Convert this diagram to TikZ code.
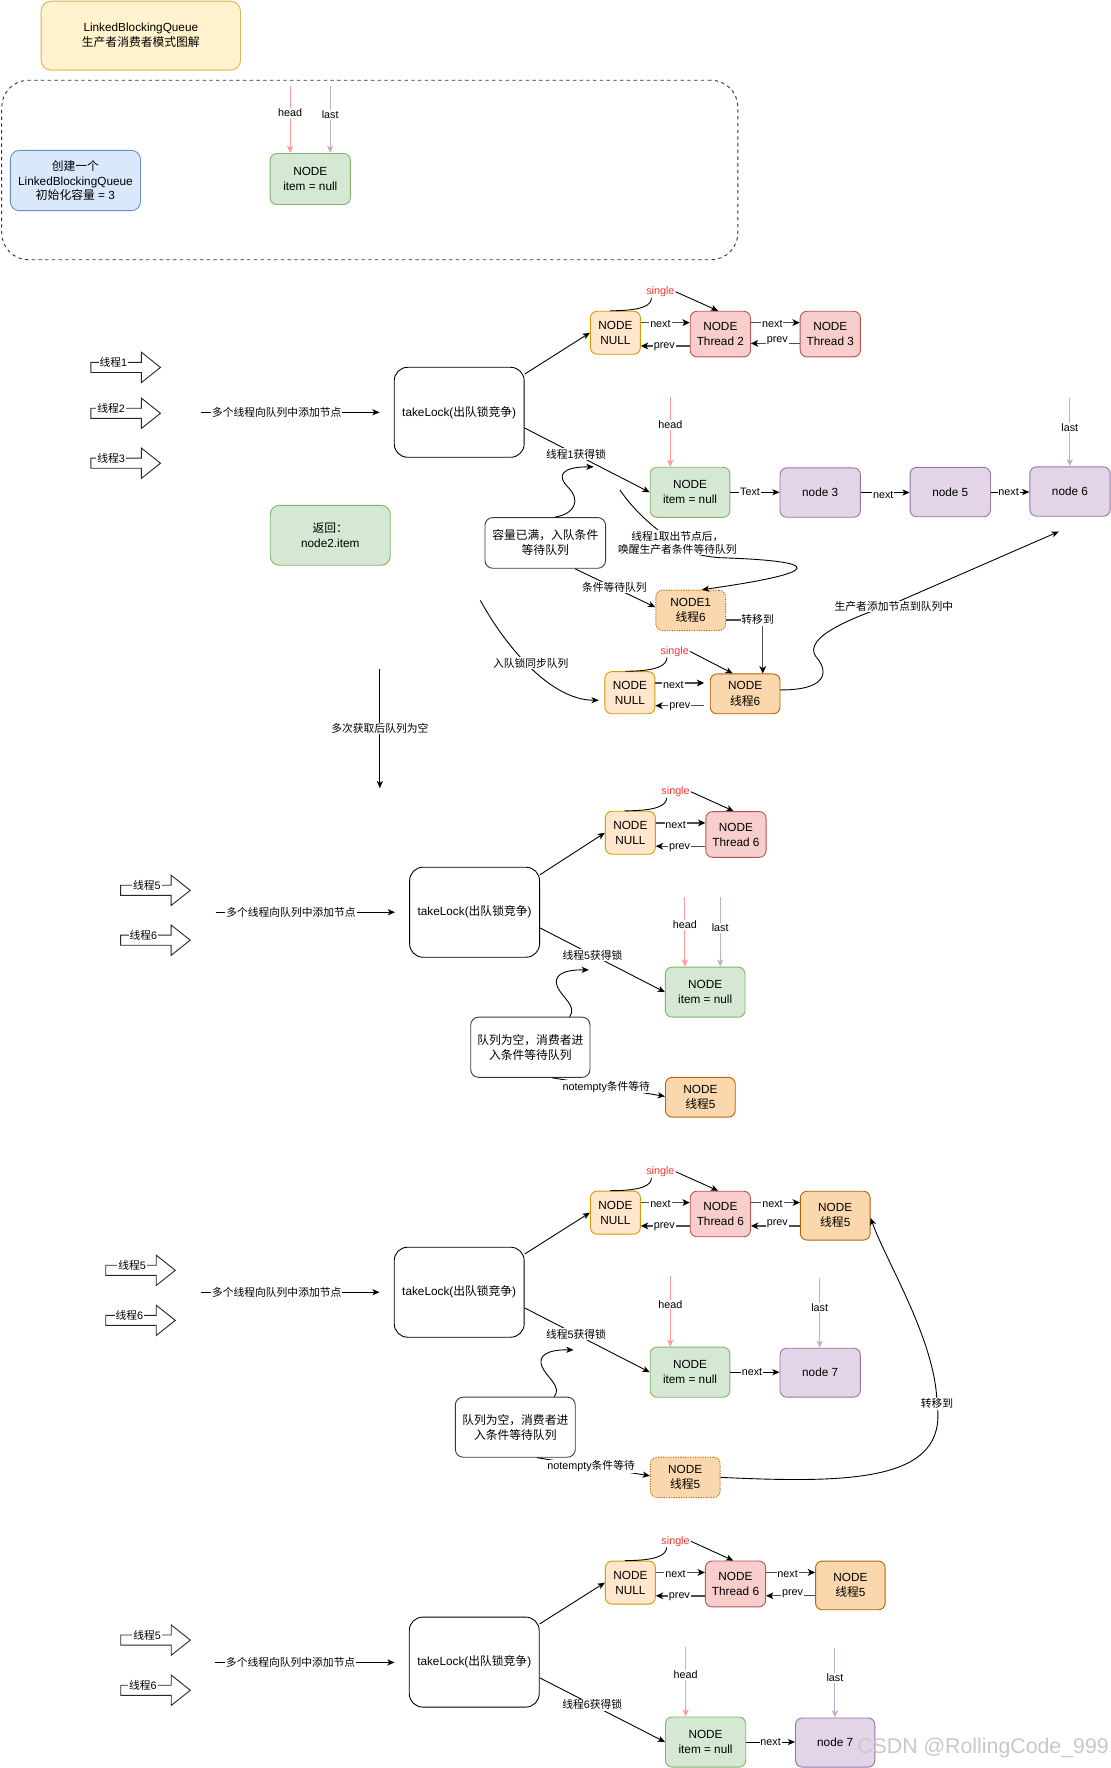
\documentclass[tikz,border=0pt]{standalone}
\usepackage{fontspec}
\setmainfont{Liberation Sans}
\newfontfamily\cjkfont{Noto Sans CJK SC}
\usetikzlibrary{arrows.meta}
\newcommand\zh[1]{{\cjkfont #1}}
\definecolor{nullfill}{HTML}{FFE6CC}\definecolor{nulldraw}{HTML}{D79B00}
\definecolor{redfill}{HTML}{F8CECC}\definecolor{reddraw}{HTML}{B85450}
\definecolor{grnfill}{HTML}{D5E8D4}\definecolor{grndraw}{HTML}{82B366}
\definecolor{purfill}{HTML}{E1D5E7}\definecolor{purdraw}{HTML}{9673A6}
\definecolor{orgfill}{HTML}{FAD7AC}\definecolor{orgdraw}{HTML}{B46504}
\definecolor{blufill}{HTML}{DAE8FC}\definecolor{bludraw}{HTML}{6C8EBF}
\definecolor{yelfill}{HTML}{FFF2CC}\definecolor{yeldraw}{HTML}{D6B656}
\definecolor{headcol}{HTML}{FF9999}
\definecolor{lastcol}{HTML}{C3ABD0}
\definecolor{sglcol}{HTML}{FF3333}
\definecolor{nxcol}{HTML}{4D4D4D}
\definecolor{msgdraw}{HTML}{36393D}
\definecolor{wmcol}{RGB}{200,200,200}
\newcommand\blockarr[5]{%
 \draw[blk] (#2,#3-4.5) -- (#2+45,#3-4.5) -- (#2+45,#3-13.5) -- (#2+62,#3) -- (#2+45,#3+13.5) -- (#2+45,#3+4.5) -- (#2,#3+4.5) -- cycle;
 \node[elbl] (#1) at (#4,#3-4.5) {#5};}
\tikzset{
 bxbase/.style={rounded corners=6pt, line width=0.8pt, align=center, inner sep=0pt, font=\fontsize{10.5}{13.4}\selectfont, anchor=center},
 nnull/.style={bxbase, fill=nullfill, draw=nulldraw, minimum width=44.6pt, minimum height=38.3pt},
 nred/.style={bxbase, fill=redfill, draw=reddraw, minimum width=53.7pt, minimum height=40.6pt},
 ngrn/.style={bxbase, fill=grnfill, draw=grndraw, minimum width=71pt, minimum height=44.6pt},
 npur/.style={bxbase, fill=purfill, draw=purdraw, minimum width=71.6pt, minimum height=44pt},
 norg/.style={bxbase, fill=orgfill, draw=orgdraw, minimum width=62.2pt, minimum height=35.5pt},
 ndot/.style={norg, dash pattern=on 1pt off 1.2pt, minimum height=36pt},
 ntake/.style={bxbase, draw=black, fill=white, rounded corners=12pt, minimum width=115.8pt, minimum height=80.2pt},
 nmsg/.style={bxbase, draw=msgdraw, fill=white, rounded corners=7pt},
 arr/.style={line width=0.8pt, -{Stealth[length=6.5pt,width=5.5pt,inset=1.8pt]}},
 pln/.style={line width=0.8pt},
 nxln/.style={line width=1.3pt, draw=nxcol, -{Stealth[length=6.5pt,width=6pt,inset=1.8pt,color=black]}},
 headln/.style={line width=0.8pt, draw=headcol, -{Stealth[length=6.5pt,width=5.5pt,inset=1.8pt]}},
 lastln/.style={line width=0.8pt, draw=lastcol, -{Stealth[length=6.5pt,width=5.5pt,inset=1.8pt]}},
 elbl/.style={fill=white, inner sep=0.8pt, align=center, text=black, font=\fontsize{9.6}{11.6}\selectfont},
 sglbl/.style={elbl, text=sglcol},
 blk/.style={draw=black!85, fill=white, line width=0.8pt, line join=miter},
}
\begin{document}
\begin{tikzpicture}[x=1pt,y=-1pt]
\useasboundingbox (0,0) rectangle (990,1575.5);
\fill[white] (0,0) rectangle (990,1575.5);
% ---------------- section 0
\node[bxbase, fill=yelfill, draw=yeldraw, rounded corners=9pt, minimum width=177.7pt, minimum height=61.5pt] (title) at (125.5,31.8) {LinkedBlockingQueue\\\zh{生产者消费者模式图解}};
\node[draw=black!80, line width=0.8pt, dash pattern=on 3pt off 3pt, rounded corners=24pt, minimum width=656pt, minimum height=160pt, inner sep=0pt] (frame0) at (329.5,151.5) {};
\node[bxbase, fill=blufill, draw=bludraw, rounded corners=8pt, minimum width=116pt, minimum height=53.7pt, font=\fontsize{10.5}{13}\selectfont] (create) at (67.2,160.9) {\zh{创建一个}\\LinkedBlockingQueue\\\zh{初始化容量} = 3};
\node[ngrn, minimum width=71.5pt, minimum height=45.5pt] (s0node) at (276.5,159.5) {NODE\\item = null};
\coordinate (s0h) at (258.5,77);
\coordinate (s0l) at (294.2,77);
\draw[headln] (s0h) -- (s0h |- s0node.north) node[elbl,pos=0.4] {head};
\draw[lastln] (s0l) -- (s0l |- s0node.north) node[elbl,pos=0.43] {last};
% ---------------- section 1
\blockarr{s1th1}{81}{327.4}{101}{\zh{线程}1}
\blockarr{s1th2}{81}{368.3}{99}{\zh{线程}2}
\blockarr{s1th3}{81}{412.8}{99}{\zh{线程}3}
\coordinate (s1a) at (178.8,367.4);
\coordinate (s1b) at (338.3,367.4);
\draw[arr] (s1a) -- (s1b) node[elbl,pos=0.425] {\zh{多个线程向队列中添加节点}};
\node[ntake] (s1take) at (409.2,367.4) {takeLock(\zh{出队锁竞争})};
\node[nnull] (s1null) at (548.4,296.5) {NODE\\NULL};
\node[nred] (s1t2) at (641.9,297.7) {NODE\\Thread 2};
\node[nred] (s1t3) at (739.9,297.7) {NODE\\Thread 3};
\node[ngrn] (s1green) at (614.9,438.7) {NODE\\item = null};
\node[npur] (s1n3) at (730.9,438.9) {node 3};
\node[npur] (s1n5) at (846.8,438.5) {node 5};
\node[npur] (s1n6) at (953.5,438) {node 6};
\draw[arr] ([yshift=34pt]s1take.east) -- (s1null.west);
\draw[arr] ([yshift=-14pt]s1take.east) -- (s1green.west) node[elbl,pos=0.41] {\zh{线程}1\zh{获得锁}};
\draw[nxln] ([yshift=9pt]s1null.east) -- ([yshift=9pt]s1null.east -| s1t2.west) node[elbl,pos=0.4,yshift=-1.5pt] {next};
\draw[nxln] ([yshift=-11.8pt]s1null.east -| s1t2.west) -- ([yshift=-11.8pt]s1null.east) node[elbl,pos=0.52,yshift=-1pt] {prev};
\draw[nxln] ([yshift=10.2pt]s1t2.east) -- ([yshift=10.2pt]s1t2.east -| s1t3.west) node[elbl,pos=0.44,yshift=-1pt] {next};
\draw[nxln] ([yshift=-8.3pt]s1t2.east -| s1t3.west) -- ([yshift=-8.3pt]s1t2.east) node[elbl,pos=0.46,yshift=2pt] {prev};
\node[sglbl] (s1sg) at (588.5,260) {single};
\draw[pln] ([xshift=-5pt]s1null.north) .. controls +(28,0) and +(0,7) .. ([xshift=-8pt]s1sg.south);
\draw[arr] (s1sg.east) -- ([xshift=-2pt]s1t2.north);
\draw[arr] (s1green.east) -- (s1green.east -| s1n3.west) node[elbl,pos=0.4] {Text};
\draw[arr] (s1n3.east) -- (s1n3.east -| s1n5.west) node[elbl,pos=0.46,yshift=-2pt] {next};
\draw[arr] (s1n5.east) -- (s1n5.east -| s1n6.west) node[elbl,pos=0.46] {next};
\coordinate (s1h) at (597.3,353.4);
\coordinate (s1l) at (953.3,354.8);
\draw[headln] (s1h) -- (s1h |- s1green.north) node[elbl,pos=0.4] {head};
\draw[lastln] (s1l) -- (s1l |- s1n6.north) node[elbl,pos=0.43] {last};
\node[nmsg, minimum width=107.5pt, minimum height=45.2pt] (s1full) at (485.9,483.8) {\zh{容量已满，入队条件}\\\zh{等待队列}};
\coordinate (s1c1) at (529,416);
\draw[arr] ([xshift=8.6pt]s1full.north) .. controls (512,458) and (518,446) .. (506,434) .. controls (496,424) and (500,416) .. (s1c1);
\node[ndot] (s1node1) at (615.5,543.9) {NODE1\\\zh{线程}6};
\coordinate (s1w0) at (552.4,436.6);
\draw[arr] (s1w0) .. controls (565,455) and (580,468) .. (600,483) .. controls (615,494) and (628,496) .. (642,497) .. controls (735,500) and (735,510) .. ([xshift=10pt]s1node1.north);
\node[elbl] (s1wake) at (603.6,483.4) {\zh{线程}1\zh{取出节点后，}\\\zh{唤醒生产者条件等待队列}};
\draw[arr] ([xshift=26.4pt]s1full.south) -- ([yshift=2.8pt]s1node1.west) node[elbl,pos=0.49] {\zh{条件等待队列}};
\node[norg] (s1w6) at (664,618.3) {NODE\\\zh{线程}6};
\node[nnull, minimum height=37.5pt] (s1null2) at (561.3,617.3) {NODE\\NULL};
\draw[nxln] ([yshift=-8.5pt]s1node1.east) -| ([xshift=15.7pt]s1w6.north) node[elbl,pos=0.43] {\zh{转移到}};
\draw[nxln] ([yshift=8.7pt]s1null2.east) -- ([xshift=-5pt,yshift=8.7pt]s1null2.east -| s1w6.west) node[elbl,pos=0.37,yshift=-1.5pt] {next};
\draw[nxln] ([xshift=-5pt,yshift=-11.5pt]s1null2.east -| s1w6.west) -- ([yshift=-11.5pt]s1null2.east) node[elbl,pos=0.5,yshift=-1pt] {prev};
\node[sglbl] (s1sg2) at (601.3,580.5) {single};
\draw[pln] ([xshift=-4pt]s1null2.north) .. controls +(28,0) and +(0,7) .. ([xshift=-7pt]s1sg2.south);
\draw[arr] (s1sg2.east) -- ([xshift=-11pt]s1w6.north);
\coordinate (s1q0) at (428,535);
\draw[arr] (s1q0) .. controls (450,575) and (490,624) .. ([xshift=-5pt,yshift=-6.7pt]s1null2.west);
\node[elbl] (s1qlbl) at (473,591) {\zh{入队锁同步队列}};
\coordinate (s1p1) at (943.5,473.7);
\draw[arr] ([yshift=3.5pt]s1w6.east) .. controls (735,615) and (740,600) .. (727,585) .. controls (715,568) and (760,550) .. (796,538) -- (s1p1);
\node[elbl] (s1plbl) at (796.6,540.5) {\zh{生产者添加节点到队列中}};
\node[ngrn, rounded corners=8pt, minimum width=106.9pt, minimum height=53.4pt] (s1ret) at (294.3,477) {\zh{返回：}\\node2.item};
\coordinate (v0) at (338.5,596);
\coordinate (v1) at (338.5,702.4);
\draw[arr] (v0) -- (v1) node[elbl,pos=0.5] {\zh{多次获取后队列为空}};
% ---------------- section 2
\blockarr{s2th5}{107.5}{793.4}{130.9}{\zh{线程}5}
\blockarr{s2th6}{107.5}{837.8}{127.8}{\zh{线程}6}
\coordinate (s2a) at (192.2,812.9);
\coordinate (s2b) at (352,812.9);
\draw[arr] (s2a) -- (s2b) node[elbl,pos=0.42] {\zh{多个线程向队列中添加节点}};
\node[ntake] (s2take) at (422.9,812.9) {takeLock(\zh{出队锁竞争})};
\node[nnull] (s2null) at (561.7,742.1) {NODE\\NULL};
\node[nred, minimum height=40.8pt] (s2t6) at (655.8,743.6) {NODE\\Thread 6};
\node[ngrn] (s2green) at (628.4,884.1) {NODE\\item = null};
\draw[arr] ([yshift=33.4pt]s2take.east) -- (s2null.west);
\draw[arr] ([yshift=-14pt]s2take.east) -- (s2green.west) node[elbl,pos=0.42] {\zh{线程}5\zh{获得锁}};
\draw[nxln] ([yshift=8.8pt]s2null.east) -- ([yshift=8.8pt]s2null.east -| s2t6.west) node[elbl,pos=0.4,yshift=-1.5pt] {next};
\draw[nxln] ([yshift=-12pt]s2null.east -| s2t6.west) -- ([yshift=-12pt]s2null.east) node[elbl,pos=0.52,yshift=-1pt] {prev};
\node[sglbl] (s2sg) at (602,705.5) {single};
\draw[pln] ([xshift=-5pt]s2null.north) .. controls +(28,0) and +(0,7) .. ([xshift=-8pt]s2sg.south);
\draw[arr] (s2sg.east) -- ([xshift=-2pt]s2t6.north);
\coordinate (s2h) at (610.3,799.5);
\coordinate (s2l) at (641.8,799.5);
\draw[headln] (s2h) -- (s2h |- s2green.north) node[elbl,pos=0.4] {head};
\draw[lastln] (s2l) -- (s2l |- s2green.north) node[elbl,pos=0.44] {last};
\node[nmsg, minimum width=106.3pt, minimum height=53.6pt] (s2empty) at (472.6,933.2) {\zh{队列为空，消费者进}\\\zh{入条件等待队列}};
\coordinate (s2c1) at (524.8,864.3);
\draw[arr] ([xshift=34.9pt]s2empty.north) .. controls (515,897) and (500,888) .. (496.6,879) .. controls (493,870) and (500,864) .. (s2c1);
\node[norg] (s2w5) at (624.1,977.75) {NODE\\\zh{线程}5};
\draw[arr] ([xshift=19.4pt]s2empty.south) -- ([yshift=0.75pt]s2w5.west) node[elbl,pos=0.48] {notempty\zh{条件等待}};
% ---------------- section 3
\blockarr{s3th5}{94.2}{1132}{117.7}{\zh{线程}5}
\blockarr{s3th6}{94.2}{1176.6}{115.2}{\zh{线程}6}
\coordinate (s3a) at (178.8,1151.5);
\coordinate (s3b) at (338.3,1151.5);
\draw[arr] (s3a) -- (s3b) node[elbl,pos=0.425] {\zh{多个线程向队列中添加节点}};
\node[ntake] (s3take) at (409.2,1151.5) {takeLock(\zh{出队锁竞争})};
\node[nnull] (s3null) at (548.4,1080.6) {NODE\\NULL};
\node[nred] (s3t6) at (641.9,1081.8) {NODE\\Thread 6};
\node[norg, minimum height=43.5pt] (s3w5) at (744.3,1083.3) {NODE\\\zh{线程}5};
\node[ngrn] (s3green) at (614.9,1222.8) {NODE\\item = null};
\node[npur, minimum height=43.6pt] (s3n7) at (730.9,1223.2) {node 7};
\draw[arr] ([yshift=34pt]s3take.east) -- (s3null.west);
\draw[arr] ([yshift=-14pt]s3take.east) -- (s3green.west) node[elbl,pos=0.41] {\zh{线程}5\zh{获得锁}};
\draw[nxln] ([yshift=9pt]s3null.east) -- ([yshift=9pt]s3null.east -| s3t6.west) node[elbl,pos=0.4,yshift=-1.5pt] {next};
\draw[nxln] ([yshift=-11.8pt]s3null.east -| s3t6.west) -- ([yshift=-11.8pt]s3null.east) node[elbl,pos=0.52,yshift=-1pt] {prev};
\draw[nxln] ([yshift=10.2pt]s3t6.east) -- ([yshift=10.2pt]s3t6.east -| s3w5.west) node[elbl,pos=0.44,yshift=-1.5pt] {next};
\draw[nxln] ([yshift=-10.6pt]s3t6.east -| s3w5.west) -- ([yshift=-10.6pt]s3t6.east) node[elbl,pos=0.46,yshift=1.5pt] {prev};
\node[sglbl] (s3sg) at (588.5,1044.1) {single};
\draw[pln] ([xshift=-5pt]s3null.north) .. controls +(28,0) and +(0,7) .. ([xshift=-8pt]s3sg.south);
\draw[arr] (s3sg.east) -- ([xshift=-2pt]s3t6.north);
\draw[arr] (s3green.east) -- (s3green.east -| s3n7.west) node[elbl,pos=0.44] {next};
\coordinate (s3h) at (597.3,1137.5);
\coordinate (s3l) at (730.4,1139);
\draw[headln] (s3h) -- (s3h |- s3green.north) node[elbl,pos=0.4] {head};
\draw[lastln] (s3l) -- (s3l |- s3n7.north) node[elbl,pos=0.42] {last};
\node[nmsg, minimum width=106.9pt, minimum height=53.5pt] (s3empty) at (459.2,1271.8) {\zh{队列为空，消费者进}\\\zh{入条件等待队列}};
\coordinate (s3c1) at (511.1,1202.9);
\draw[arr] ([xshift=34.7pt]s3empty.north) .. controls (501.3,1235.6) and (486.3,1226.6) .. (482.9,1217.6) .. controls (479.3,1208.6) and (486.3,1202.6) .. (s3c1);
\node[ndot] (s3dw5) at (610.6,1316.5) {NODE\\\zh{线程}5};
\draw[arr] ([xshift=19.2pt]s3empty.south) -- ([yshift=1.4pt]s3dw5.west) node[elbl,pos=0.48] {notempty\zh{条件等待}};
\draw[arr] (s3dw5.east) .. controls (760,1322) and (845,1320) .. (835,1251) .. controls (834,1195) and (790,1125) .. ([yshift=-2pt]s3w5.east);
\node[elbl] (s3mv) at (835,1251) {\zh{转移到}};
% ---------------- section 4
\blockarr{s4th5}{107.6}{1461.5}{131.1}{\zh{线程}5}
\blockarr{s4th6}{107.6}{1506.2}{127.3}{\zh{线程}6}
\coordinate (s4a) at (191.9,1481.4);
\coordinate (s4b) at (351.6,1481.4);
\draw[arr] (s4a) -- (s4b) node[elbl,pos=0.42] {\zh{多个线程向队列中添加节点}};
\node[ntake] (s4take) at (422.6,1481.1) {takeLock(\zh{出队锁竞争})};
\node[nnull] (s4null) at (561.75,1410.25) {NODE\\NULL};
\node[nred, minimum height=40.9pt] (s4t6) at (655.4,1411.5) {NODE\\Thread 6};
\node[norg, minimum width=62pt, minimum height=43.4pt] (s4w5) at (757.75,1412.8) {NODE\\\zh{线程}5};
\node[ngrn, minimum width=71.5pt, minimum height=44.7pt] (s4green) at (628.75,1552.35) {NODE\\item = null};
\node[npur, minimum width=70.7pt, minimum height=43.8pt] (s4n7) at (744.25,1552.8) {node 7};
\draw[arr] ([yshift=34pt]s4take.east) -- (s4null.west);
\draw[arr] ([yshift=-14pt]s4take.east) -- (s4green.west) node[elbl,pos=0.42] {\zh{线程}6\zh{获得锁}};
\draw[nxln] ([yshift=9pt]s4null.east) -- ([yshift=9pt]s4null.east -| s4t6.west) node[elbl,pos=0.4,yshift=-1.5pt] {next};
\draw[nxln] ([yshift=-11.8pt]s4null.east -| s4t6.west) -- ([yshift=-11.8pt]s4null.east) node[elbl,pos=0.52,yshift=-1pt] {prev};
\draw[nxln] ([yshift=10.3pt]s4t6.east) -- ([yshift=10.3pt]s4t6.east -| s4w5.west) node[elbl,pos=0.44,yshift=-1.5pt] {next};
\draw[nxln] ([yshift=-10.5pt]s4t6.east -| s4w5.west) -- ([yshift=-10.5pt]s4t6.east) node[elbl,pos=0.46,yshift=1.5pt] {prev};
\node[sglbl] (s4sg) at (602,1373.4) {single};
\draw[pln] ([xshift=-5pt]s4null.north) .. controls +(28,0) and +(0,7) .. ([xshift=-8pt]s4sg.south);
\draw[arr] (s4sg.east) -- ([xshift=-2pt]s4t6.north);
\draw[arr] (s4green.east) -- (s4green.east -| s4n7.west) node[elbl,pos=0.5] {next};
\coordinate (s4h) at (611,1468);
\coordinate (s4l) at (744,1468.8);
\draw[headln] (s4h) -- (s4h |- s4green.north) node[elbl,pos=0.4] {head};
\draw[lastln] (s4l) -- (s4l |- s4n7.north) node[elbl,pos=0.43] {last};
\node[font=\fontsize{19}{19}\selectfont, text=wmcol, inner sep=0pt] (wm) at (876,1557.8) {CSDN @RollingCode\_999};
\end{tikzpicture}
\end{document}
